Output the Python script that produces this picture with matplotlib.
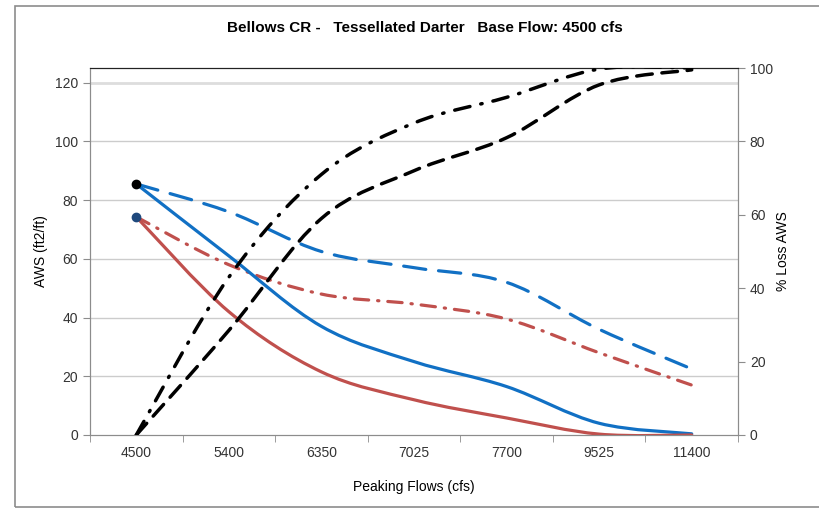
import matplotlib
matplotlib.use('Agg')
import matplotlib.pyplot as plt
from matplotlib.path import Path
from matplotlib.patches import PathPatch, Rectangle
import numpy as np

plt.rcParams['font.family'] = ['Liberation Sans', 'DejaVu Sans']

flows = ['4500', '5400', '6350', '7025', '7700', '9525', '11400']

# AWS (ft2/ft), left axis
aws_blue = [85.5, 61, 37, 25, 16.5, 4, 0.4]
aws_red = [74.3, 42, 21.5, 12, 5.8, 0.3, 0]
aws_blue_dash = [85.5, 76, 62.5, 57, 52, 36, 22.5]
aws_red_dashdot = [74.3, 58, 48, 44.6, 39.5, 28, 17]

# % Loss AWS, right axis
loss_dashdot = [0, 43, 71, 85, 92, 99.7, 100]
loss_dash = [0, 28.5, 59, 72, 81, 95.4, 99.5]

blue = '#1170C4'
red = '#C0504D'


def smooth_path(x, y):
    # Excel style smoothed line: cubic bezier through every point
    x = np.asarray(x, float)
    y = np.asarray(y, float)
    pts = np.column_stack([x, y])
    n = len(pts)
    verts = [pts[0]]
    codes = [Path.MOVETO]
    for i in range(n - 1):
        p0 = pts[i - 1] if i > 0 else pts[i]
        p1 = pts[i]
        p2 = pts[i + 1]
        p3 = pts[i + 2] if i + 2 < n else pts[i + 1]
        c1 = p1 + (p2 - p0) / 6.0
        c2 = p2 - (p3 - p1) / 6.0
        verts += [c1, c2, p2]
        codes += [Path.CURVE4] * 3
    return Path(verts, codes)


def add_line(ax, y, color, lw, dashes=None):
    x = np.arange(len(y))
    patch = PathPatch(smooth_path(x, y), facecolor='none', edgecolor=color,
                      lw=lw, capstyle='round', joinstyle='round', zorder=3)
    if dashes is not None:
        patch.set_linestyle((0, dashes))
    ax.add_patch(patch)


fig = plt.figure(figsize=(8.2, 5.08), dpi=100)
fig.patches.append(Rectangle((15 / 820, 1 / 508), 1.0, 501 / 508, transform=fig.transFigure,
                             fill=False, edgecolor='#8c8c8c', lw=1.2))

ax = fig.add_axes([90 / 820, 73 / 508, 648 / 820, 367 / 508])
ax2 = ax.twinx()

add_line(ax, aws_blue_dash, blue, 2.3, dashes=(7, 4))
add_line(ax, aws_red_dashdot, red, 2.3, dashes=(4.5, 2.8, 0.4, 2.8))
add_line(ax, aws_blue, blue, 2.3)
add_line(ax, aws_red, red, 2.3)
ax.plot([0], [aws_blue[0]], 'o', color='black', ms=6, zorder=5)
ax.plot([0], [aws_red[0]], 'o', color='#1F497D', ms=6, zorder=5)

add_line(ax2, loss_dashdot, 'black', 2.5, dashes=(4.5, 3.2, 0.4, 3.2))
add_line(ax2, loss_dash, 'black', 2.5, dashes=(4.5, 2.8))

ax.set_xlim(-0.5, len(flows) - 0.5)
ax.set_ylim(0, 125)
ax2.set_ylim(0, 100)
ax.set_yticks(range(0, 121, 20))
ax2.set_yticks(range(0, 101, 20))
ax.set_xticks(np.arange(len(flows)))
ax.set_xticklabels(flows)
ax.set_xticks(np.arange(len(flows) + 1) - 0.5, minor=True)
ax.tick_params(axis='x', which='major', length=0, pad=8)
ax.tick_params(axis='x', which='minor', length=5, color='#8c8c8c', direction='out')

for a in (ax, ax2):
    a.tick_params(axis='y', length=5, color='#8c8c8c', labelsize=10, labelcolor='#333333')
    for s in ('left', 'right', 'bottom'):
        a.spines[s].set_color('#8c8c8c')
    a.spines['top'].set_color('#222222')
ax.tick_params(axis='x', labelsize=10, labelcolor='#333333')

for v in range(20, 121, 20):
    ax.axhline(v, color='#cccccc' if v < 120 else '#dddddd', lw=1.0 if v < 120 else 2.0, zorder=0)

ax.set_xlabel('Peaking Flows (cfs)', fontsize=10, labelpad=14)
ax.set_ylabel('AWS (ft2/ft)', fontsize=10, labelpad=5)
ax2.set_ylabel('% Loss AWS', fontsize=10, labelpad=2)

fig.text(425 / 820, 1 - 28 / 508, 'Bellows CR -   Tessellated Darter   Base Flow: 4500 cfs',
         ha='center', va='center', fontsize=11, fontweight='bold')

fig.savefig('out.png', dpi=100)
